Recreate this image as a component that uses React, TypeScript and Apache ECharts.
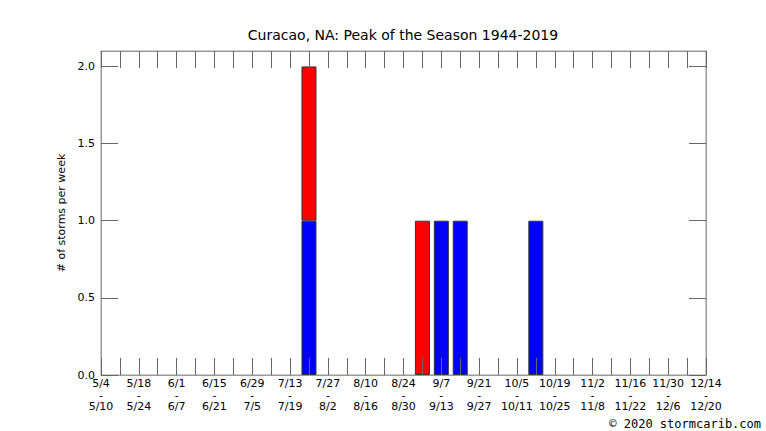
import React, { useEffect, useRef } from "react";
import * as echarts from "echarts";

const TITLE = "Curacao, NA: Peak of the Season 1944-2019";
const Y_NAME = "# of storms per week";
const COPYRIGHT = "© 2020 stormcarib.com";

const weekStarts = ["5/4", "5/11", "5/18", "5/25", "6/1", "6/8", "6/15", "6/22", "6/29", "7/6", "7/13", "7/20", "7/27", "8/3", "8/10", "8/17", "8/24", "8/31", "9/7", "9/14", "9/21", "9/28", "10/5", "10/12", "10/19", "10/26", "11/2", "11/9", "11/16", "11/23", "11/30", "12/7", "12/14"];
const weekEnds = ["5/10", "5/17", "5/24", "5/31", "6/7", "6/14", "6/21", "6/28", "7/5", "7/12", "7/19", "7/26", "8/2", "8/9", "8/16", "8/23", "8/30", "9/6", "9/13", "9/20", "9/27", "10/4", "10/11", "10/18", "10/25", "11/1", "11/8", "11/15", "11/22", "11/29", "12/6", "12/13", "12/20"];

// storms per week (blue lower part, red stacked on top); "-" = none
const blueValues: (number | string)[] = ["-", "-", "-", "-", "-", "-", "-", "-", "-", "-", "-", 1, "-", "-", "-", "-", "-", "-", 1, 1, "-", "-", "-", 1, "-", "-", "-", "-", "-", "-", "-", "-", "-"];
const redValues: (number | string)[] = ["-", "-", "-", "-", "-", "-", "-", "-", "-", "-", "-", 1, "-", "-", "-", "-", "-", 1, "-", "-", "-", "-", "-", "-", "-", "-", "-", "-", "-", "-", "-", "-", "-"];

const yTicks = [0, 0.5, 1, 1.5, 2];

export default function App() {
  const ref = useRef<HTMLDivElement>(null);
  useEffect(() => {
    if (!ref.current) return;
    const chart = echarts.init(ref.current, null, { renderer: "svg" });
    const font = "DejaVu Sans";
    const tickColor = "#666";
    const lineColor = "#999";
    const categories = weekStarts.map((s, i) => s + "\n-\n" + weekEnds[i]);
    const xBase = {
      type: "category" as const,
      data: categories,
      boundaryGap: false,
      z: 5,
      axisLine: { show: true, onZero: false, lineStyle: { color: lineColor, width: 1 } },
      axisTick: { show: true, inside: true, length: 17, interval: 0, lineStyle: { color: tickColor, width: 1 } },
      splitLine: { show: false },
    };
    const yBase = {
      type: "value" as const,
      min: 0,
      max: 2.1,
      interval: 0.5,
      z: 5,
      axisLine: { show: true, onZero: false, lineStyle: { color: lineColor, width: 1 } },
      axisTick: { show: true, inside: true, length: 17, customValues: yTicks, lineStyle: { color: tickColor, width: 1 } },
      splitLine: { show: false },
    };
    chart.setOption({
      animation: false,
      backgroundColor: "#fff",
      grid: { left: 101, right: 60, top: 51, bottom: 56, show: true, borderColor: lineColor, borderWidth: 1, backgroundColor: "transparent" },
      xAxis: [
        {
          ...xBase,
          position: "bottom",
          axisLabel: {
            show: true,
            interval: 1,
            margin: 3,
            fontSize: 11,
            lineHeight: 11.5,
            fontFamily: font,
            color: "#000",
          },
        },
        { ...xBase, position: "top", axisLabel: { show: false } },
      ],
      yAxis: [
        {
          ...yBase,
          position: "left",
          name: Y_NAME,
          nameLocation: "middle",
          nameGap: 28,
          nameTextStyle: { fontSize: 11, fontFamily: font, color: "#000" },
          axisLabel: {
            show: true,
            margin: 6,
            fontSize: 11,
            fontFamily: font,
            color: "#000",
            customValues: yTicks,
            formatter: (v: number) => (v > 2.05 ? "" : v.toFixed(1)),
          },
        },
        { ...yBase, position: "right", axisLabel: { show: false } },
      ],
      graphic: [
        {
          type: "text",
          x: 403,
          y: 35,
          style: { text: TITLE, textAlign: "center", textVerticalAlign: "middle", font: `14px "${font}"`, fill: "#000" },
        },
        {
          type: "text",
          x: 761,
          y: 424,
          style: { text: COPYRIGHT, textAlign: "right", textVerticalAlign: "middle", font: `12px "DejaVu Sans Mono"`, fill: "#000" },
        },
      ],
      series: [
        {
          type: "bar",
          name: "blue",
          stack: "s",
          barWidth: 15,
          xAxisIndex: 0,
          yAxisIndex: 0,
          itemStyle: { color: "#0000ff", borderColor: "#333", borderWidth: 1 },
          data: blueValues,
        },
        {
          type: "bar",
          name: "red",
          stack: "s",
          barWidth: 15,
          xAxisIndex: 0,
          yAxisIndex: 0,
          itemStyle: { color: "#ff0000", borderColor: "#333", borderWidth: 1 },
          data: redValues,
        },
      ],
    });
    return () => chart.dispose();
  }, []);
  return <div ref={ref} style={{ position: "absolute", left: 0, top: 0, width: 766, height: 431 }} />;
}
